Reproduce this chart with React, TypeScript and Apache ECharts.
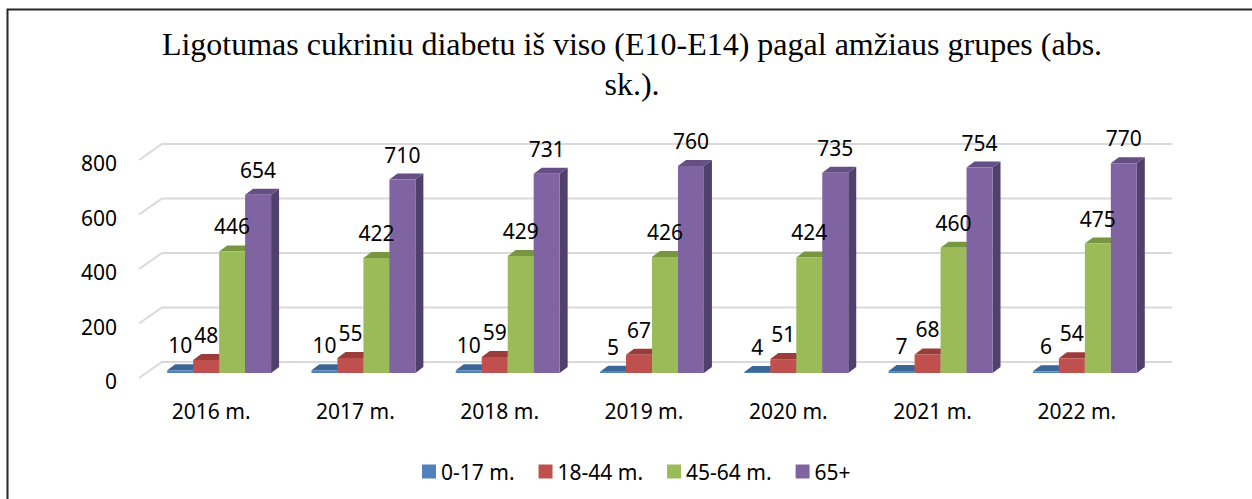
import React, { useEffect, useRef } from "react";
import * as echarts from "echarts";

const categories = ["2016 m.", "2017 m.", "2018 m.", "2019 m.", "2020 m.", "2021 m.", "2022 m."];
const seriesNames = ["0-17 m.", "18-44 m.", "45-64 m.", "65+"];
const age0to17 = [10, 10, 10, 5, 4, 7, 6];
const age18to44 = [48, 55, 59, 67, 51, 68, 54];
const age45to64 = [446, 422, 429, 426, 424, 460, 475];
const age65plus = [654, 710, 731, 760, 735, 754, 770];
const yTicks = [0, 200, 400, 600, 800];

const titleText = "Ligotumas cukriniu diabetu iš viso (E10-E14) pagal amžiaus grupes (abs.\nsk.).";

const faces = [
  { front: "#4F81BD", top: "#3C6598", side: "#2F5079" },
  { front: "#C0504D", top: "#9A3C3A", side: "#7C302E" },
  { front: "#9BBB59", top: "#789641", side: "#617A34" },
  { front: "#8064A2", top: "#654F84", side: "#52406C" },
];

const FONT = "'Noto Sans', 'Open Sans', sans-serif";
const BAR_FRAC = 0.18;
const PLANE_DX = 8, PLANE_DY = -5; // bar front plane vs floor front edge
const DEPTH_DX = 8, DEPTH_DY = -6; // bar depth
const WALL_DX = 23, WALL_DY = -16; // back wall vs floor front edge

function barRenderer(s: number) {
  const f = faces[s];
  return (params: any, api: any) => {
    const ci = api.value(0);
    const v = api.value(1);
    const top = api.coord([ci, v]);
    const base = api.coord([ci, 0]);
    const band = api.size([1, 0])[0];
    const w = band * BAR_FRAC;
    const x0 = top[0] + PLANE_DX + (s - 2) * w;
    const x1 = x0 + w;
    const yt = top[1] + PLANE_DY;
    const yb = base[1] + PLANE_DY;
    return {
      type: "group",
      children: [
        {
          type: "polygon",
          shape: { points: [[x1, yb], [x1, yt], [x1 + DEPTH_DX, yt + DEPTH_DY], [x1 + DEPTH_DX, yb + DEPTH_DY]] },
          style: { fill: f.side },
        },
        {
          type: "polygon",
          shape: { points: [[x0, yt], [x1, yt], [x1 + DEPTH_DX, yt + DEPTH_DY], [x0 + DEPTH_DX, yt + DEPTH_DY]] },
          style: { fill: f.top },
        },
        {
          type: "rect",
          shape: { x: x0, y: yt, width: w, height: Math.max(yb - yt, 0) },
          style: { fill: f.front },
        },
        {
          type: "text",
          z2: 10,
          style: {
            text: String(v),
            x: (x0 + x1) / 2,
            y: yt - 25,
            align: "center",
            verticalAlign: "middle",
            fontSize: 21,
            fontFamily: FONT,
            fill: "#000",
          },
        },
      ],
    };
  };
}

function gridRenderer(params: any, api: any) {
  const cs = params.coordSys;
  const y = api.coord([0, api.value(1)])[1];
  return {
    type: "polyline",
    shape: {
      points: [
        [cs.x, y],
        [cs.x + WALL_DX, y + WALL_DY],
        [cs.x + cs.width + WALL_DX, y + WALL_DY],
      ],
    },
    style: { stroke: "#D9D9D9", lineWidth: 2, fill: "none" },
  };
}

export default function App() {
  const ref = useRef<HTMLDivElement>(null);
  useEffect(() => {
    if (!ref.current) return;
    const chart = echarts.init(ref.current, null, { renderer: "svg" });
    const valueSets = [age0to17, age18to44, age45to64, age65plus];
    const yAxisBase = {
      type: "value",
      min: 0,
      max: 800,
      interval: 200,
      axisLine: { show: false },
      axisTick: { show: false },
      splitLine: { show: false },
    };
    chart.setOption({
      animation: false,
      backgroundColor: "#fff",
      graphic: [
        {
          type: "rect",
          silent: true,
          shape: { x: 7.5, y: 9.5, width: 1400, height: 700 },
          style: { fill: "none", stroke: "#262626", lineWidth: 2 },
        },
        {
          type: "text",
          silent: true,
          style: {
            text: titleText,
            x: 632,
            y: 24,
            align: "center",
            verticalAlign: "top",
            fontSize: 32,
            lineHeight: 40,
            fontFamily: "'Liberation Serif', 'Times New Roman', serif",
            fill: "#000",
          },
        },
      ],
      legend: {
        data: seriesNames,
        left: 417,
        top: 456,
        icon: "rect",
        itemWidth: 14,
        itemHeight: 14,
        itemGap: 24,
        textStyle: { fontSize: 21, fontFamily: FONT, color: "#000" },
      },
      grid: [
        { left: 139, top: 160, width: 1010, height: 218 },
        { left: 139, top: 163, width: 1010, height: 218 },
      ],
      xAxis: [
        {
          type: "category",
          data: categories,
          gridIndex: 0,
          axisLine: { show: false },
          axisTick: { show: false },
          axisLabel: { margin: 22, fontSize: 21, fontFamily: FONT, color: "#000" },
        },
        { type: "category", data: categories, gridIndex: 1, show: false },
      ],
      yAxis: [
        { ...yAxisBase, gridIndex: 0, axisLabel: { show: false } },
        {
          ...yAxisBase,
          gridIndex: 1,
          axisLabel: { margin: 22, fontSize: 21, fontFamily: FONT, color: "#000" },
        },
      ],
      series: [
        {
          type: "custom",
          name: "grid",
          renderItem: gridRenderer,
          data: yTicks.map((t) => [0, t]),
          encode: { x: 0, y: 1 },
          silent: true,
          z: 1,
        },
        ...valueSets.map((vals, s) => ({
          type: "custom",
          name: seriesNames[s],
          renderItem: barRenderer(s),
          data: vals.map((v, i) => [i, v]),
          encode: { x: 0, y: 1 },
          itemStyle: { color: faces[s].front },
          z: 2,
        })),
      ],
    });
    return () => chart.dispose();
  }, []);
  return (
    <div
      ref={ref}
      style={{ position: "fixed", left: 0, top: 0, width: 1252, height: 499, background: "#fff" }}
    />
  );
}
